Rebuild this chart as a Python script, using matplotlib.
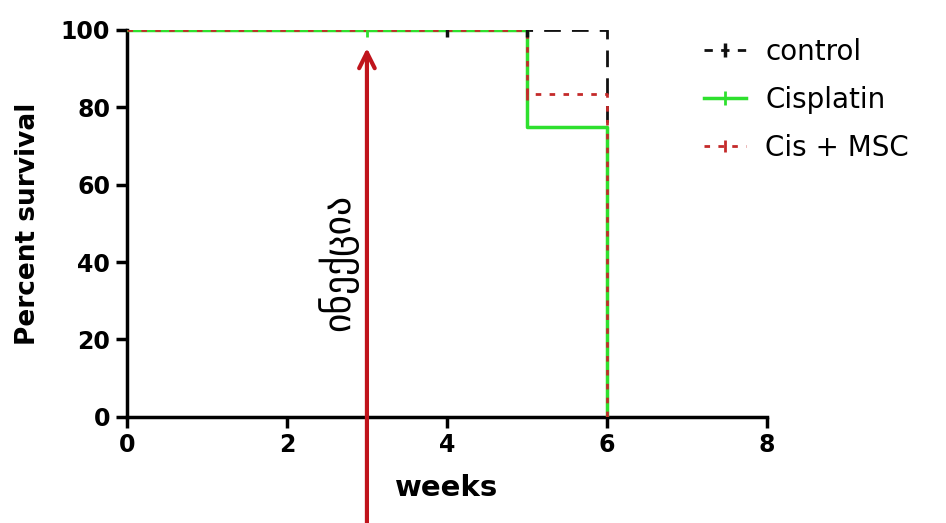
import matplotlib
matplotlib.use('Agg')
import matplotlib.pyplot as plt

plt.rcParams['font.family'] = ['DejaVu Sans']

# Kaplan-Meier steps (weeks, percent survival)
control_t = [0, 6]
control_s = [100, 0]
cis_t = [0, 5, 6]
cis_s = [100, 75, 0]
cismsc_t = [0, 5, 6]
cismsc_s = [100, 83.33, 0]

# censor tick marks
control_cens_t = [4, 5]
control_cens_s = [100, 100]
cis_cens_t = [3]
cis_cens_s = [100]
cismsc_cens_t = [5]
cismsc_cens_s = [83.33]

injection_week = 3
injection_label = 'ინექცია'

x_ticks = [0, 2, 4, 6, 8]
y_ticks = [0, 20, 40, 60, 80, 100]

BLACK = '#111111'
GREEN = '#2ee02e'
RED = '#c42a2a'

fig = plt.figure(figsize=(9.46, 5.23), dpi=100)
ax = fig.add_axes([0.134, 0.203, 0.677, 0.74])

ax.step(control_t, control_s, where='post', color=BLACK, lw=2, dashes=(6, 4), zorder=3)
ax.plot(control_cens_t, control_cens_s, ls='none', marker='|', ms=10, mew=2.5, color=BLACK, zorder=4)
ax.step(cis_t, cis_s, where='post', color=GREEN, lw=2.5, zorder=3)
ax.plot(cis_cens_t, cis_cens_s, ls='none', marker='|', ms=10, mew=2, color=GREEN, zorder=4)
ax.step(cismsc_t, cismsc_s, where='post', color=RED, lw=2, dashes=(2, 3), zorder=3)
ax.plot(cismsc_cens_t, cismsc_cens_s, ls='none', marker='|', ms=8, mew=2, color=RED, zorder=4)

ax.set_xlim(0, 8)
ax.set_ylim(0, 100)
ax.set_xticks(x_ticks)
ax.set_yticks(y_ticks)
for side in ['top', 'right']:
    ax.spines[side].set_visible(False)
for side in ['left', 'bottom']:
    ax.spines[side].set_linewidth(2.5)
    ax.spines[side].set_color('black')
ax.tick_params(width=2.5, length=8, labelsize=17, pad=4)
for lbl in ax.get_xticklabels() + ax.get_yticklabels():
    lbl.set_fontweight('bold')
ax.set_xlabel('weeks', fontsize=21, fontweight='bold', labelpad=12)
ax.set_ylabel('Percent survival', fontsize=19, fontweight='bold', labelpad=14)

# injection arrow
ax.annotate('', xy=(injection_week, 95.3), xycoords='data',
            xytext=(injection_week, 0), textcoords=('data', 'figure fraction'),
            arrowprops=dict(arrowstyle='->', color='#c0141c', lw=3, mutation_scale=28,
                            shrinkA=0, shrinkB=0),
            annotation_clip=False, zorder=5)
ax.text(injection_week - 0.36, 40, injection_label, rotation=90, ha='center', va='center',
        fontsize=27, color='black')

handles = [
    plt.Line2D([], [], color=BLACK, lw=2, dashes=(3, 3), marker='|', ms=10, mew=2.5),
    plt.Line2D([], [], color=GREEN, lw=2.5, marker='|', ms=10, mew=2),
    plt.Line2D([], [], color=RED, lw=2, dashes=(2, 3), marker='|', ms=8, mew=2),
]
fig.legend(handles, ['control', 'Cisplatin', 'Cis + MSC'], loc='upper left',
           bbox_to_anchor=(0.718, 0.975), frameon=False, fontsize=20,
           handlelength=1.5, handletextpad=0.7, labelspacing=0.72)

fig.savefig('out.png', dpi=100)
